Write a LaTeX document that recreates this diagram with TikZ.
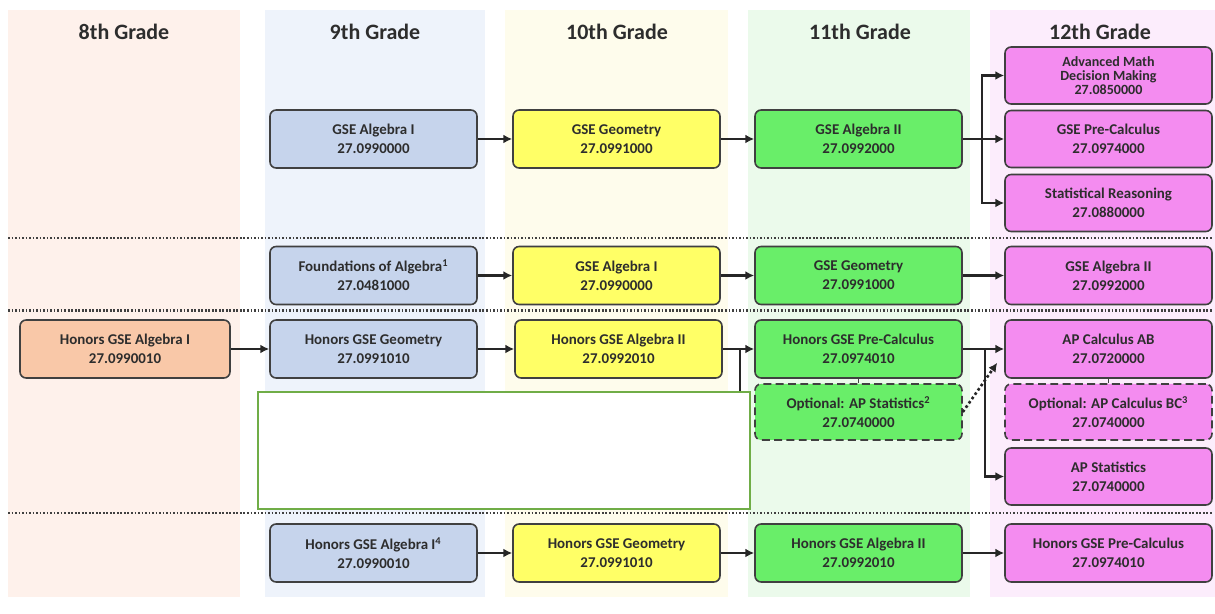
\documentclass[tikz,border=0pt]{standalone}
\usepackage{fontspec}
\setmainfont{Carlito}
\usetikzlibrary{arrows.meta}
\definecolor{bgeight}{RGB}{254,241,235}
\definecolor{bgnine}{RGB}{238,243,251}
\definecolor{bgten}{RGB}{254,252,236}
\definecolor{bgeleven}{RGB}{235,250,235}
\definecolor{bgtwelve}{RGB}{252,237,252}
\definecolor{cblue}{RGB}{198,212,236}
\definecolor{cyellow}{RGB}{255,255,102}
\definecolor{cgreen}{RGB}{105,238,105}
\definecolor{cpink}{RGB}{244,140,240}
\definecolor{corange}{RGB}{249,200,168}
\definecolor{boxline}{RGB}{64,64,64}
\definecolor{txt}{RGB}{45,45,45}
\definecolor{maskline}{RGB}{112,173,71}
\begin{document}
\begin{tikzpicture}[>={Latex[length=5pt,width=5pt]}]
	\tikzstyle{course}=[rectangle,rounded corners=3.5pt,draw=boxline,line width=0.9pt,minimum width=4.14cm,minimum height=1.16cm,inner sep=0pt,align=center,text=txt,font=\bfseries\fontsize{8.5}{10.8}\selectfont]
	\tikzstyle{optional}=[course,dashed,dash pattern=on 4.5pt off 2.5pt]
	\tikzstyle{grade}=[font=\bfseries\fontsize{12.5}{14}\selectfont,text=txt]
	\tikzstyle{link}=[->,line width=1.5pt,draw=black!85]
	\tikzstyle{sep}=[line width=1.4pt,draw=black!75,dash pattern=on 1pt off 1pt]
	\useasboundingbox (0,0) rectangle (24.3,-12.28);
	% grade columns
	\fill[bgeight](0.16,-0.2) rectangle (4.80,-11.94);
	\fill[bgnine](5.30,-0.2) rectangle (9.70,-11.94);
	\fill[bgten](10.10,-0.2) rectangle (14.56,-11.94);
	\fill[bgeleven](14.96,-0.2) rectangle (19.40,-11.94);
	\fill[bgtwelve](19.80,-0.2) rectangle (24.3,-11.94);
	\draw[sep](0.16,-4.76)--(24.24,-4.76);
	\draw[sep](0.16,-6.21)--(24.24,-6.21);
	\draw[sep](0.16,-10.26)--(24.24,-10.26);
	\draw
	node[grade](H8)at(2.48,-0.64){8th Grade}
	node[grade](H9)at(7.50,-0.64){9th Grade}
	node[grade](H10)at(12.34,-0.64){10th Grade}
	node[grade](H11)at(17.20,-0.64){11th Grade}
	node[grade](H12)at(22.00,-0.64){12th Grade}
	% on level
	node[course,fill=cblue](Alg1)at(7.47,-2.78){GSE Algebra I\\27.0990000}
	node[course,fill=cyellow](Geo)at(12.33,-2.78){GSE Geometry\\27.0991000}
	node[course,fill=cgreen](Alg2)at(17.17,-2.78){GSE Algebra II\\27.0992000}
	node[course,fill=cpink,minimum height=1.14cm,font=\bfseries\fontsize{8}{7.9}\selectfont](AMDM)at(22.17,-1.51){Advanced Math\\Decision Making\\27.0850000}
	node[course,fill=cpink,minimum height=1.14cm](PreCalc)at(22.17,-2.78){GSE Pre-Calculus\\27.0974000}
	node[course,fill=cpink,minimum height=1.14cm](StatR)at(22.17,-4.06){Statistical Reasoning\\27.0880000}
	% foundations
	node[course,fill=cblue](Found)at(7.47,-5.51){Foundations of Algebra\textsuperscript{1}\\27.0481000}
	node[course,fill=cyellow](AlgOne)at(12.33,-5.51){GSE Algebra I\\27.0990000}
	node[course,fill=cgreen](GeoB)at(17.17,-5.51){GSE Geometry\\27.0991000}
	node[course,fill=cpink](AlgTwo)at(22.17,-5.51){GSE Algebra II\\27.0992000}
	% accelerated
	node[course,fill=corange,minimum width=4.2cm](HAlg1)at(2.50,-6.98){Honors GSE Algebra I\\27.0990010}
	node[course,fill=cblue](HGeo)at(7.47,-6.98){Honors GSE Geometry\\27.0991010}
	node[course,fill=cyellow](HAlg2)at(12.37,-6.98){Honors GSE Algebra II\\27.0992010}
	node[course,fill=cgreen](HPre)at(17.17,-6.98){Honors GSE Pre-Calculus\\27.0974010}
	node[course,fill=cpink](CalcAB)at(22.17,-6.98){AP Calculus AB\\27.0720000}
	node[optional,fill=cgreen,minimum height=1.12cm](OptStat)at(17.17,-8.24){Optional: AP Statistics\textsuperscript{2}\\27.0740000}
	node[optional,fill=cpink,minimum height=1.12cm](OptBC)at(22.17,-8.24){Optional: AP Calculus BC\textsuperscript{3}\\27.0740000}
	node[course,fill=cpink,minimum height=1.14cm](APStat)at(22.17,-9.53){AP Statistics\\27.0740000}
	% honors from 9th grade
	node[course,fill=cblue](HAlgOne)at(7.47,-11.06){Honors GSE Algebra I\textsuperscript{4}\\27.0990010}
	node[course,fill=cyellow](HGeoB)at(12.33,-11.06){Honors GSE Geometry\\27.0991010}
	node[course,fill=cgreen](HAlgTwo)at(17.17,-11.06){Honors GSE Algebra II\\27.0992010}
	node[course,fill=cpink](HPreB)at(22.17,-11.06){Honors GSE Pre-Calculus\\27.0974010};
	
	\coordinate(J1)at(19.64,-2.78);
	\coordinate(J2)at(14.80,-6.98);
	\coordinate(J2end)at(14.80,-9.6);
	\coordinate(J3)at(19.70,-6.98);
	
	\draw[link](Alg1)--(Geo);
	\draw[link](Geo)--(Alg2);
	\draw[link](Alg2)--(PreCalc);
	\draw[link](J1)|-(AMDM.west);
	\draw[link](J1)|-(StatR.west);
	\draw[link](Found)--(AlgOne);
	\draw[link](AlgOne)--(GeoB);
	\draw[link](GeoB)--(AlgTwo);
	\draw[link](HAlg1)--(HGeo);
	\draw[link](HGeo)--(HAlg2);
	\draw[link](HAlg2)--(HPre);
	\draw[link,-](J2)--(J2end);
	\draw[link](HPre)--(CalcAB);
	\draw[link](J3)|-(APStat.west);
	\draw[line width=0.9pt,draw=boxline](HPre.south)--(OptStat.north);
	\draw[line width=0.9pt,draw=boxline](CalcAB.south)--(OptBC.north);
	\draw[link,dash pattern=on 1.5pt off 1.5pt](OptStat.east)--([shift={(-0.14,0.32)}]CalcAB.south west);
	\draw[link](HAlgOne)--(HGeoB);
	\draw[link](HGeoB)--(HAlgTwo);
	\draw[link](HAlgTwo)--(HPreB);
	% covered area
	\draw[draw=maskline,line width=1.2pt,fill=white](5.16,-7.84) rectangle (15.0,-10.18);
\end{tikzpicture}
\end{document}
